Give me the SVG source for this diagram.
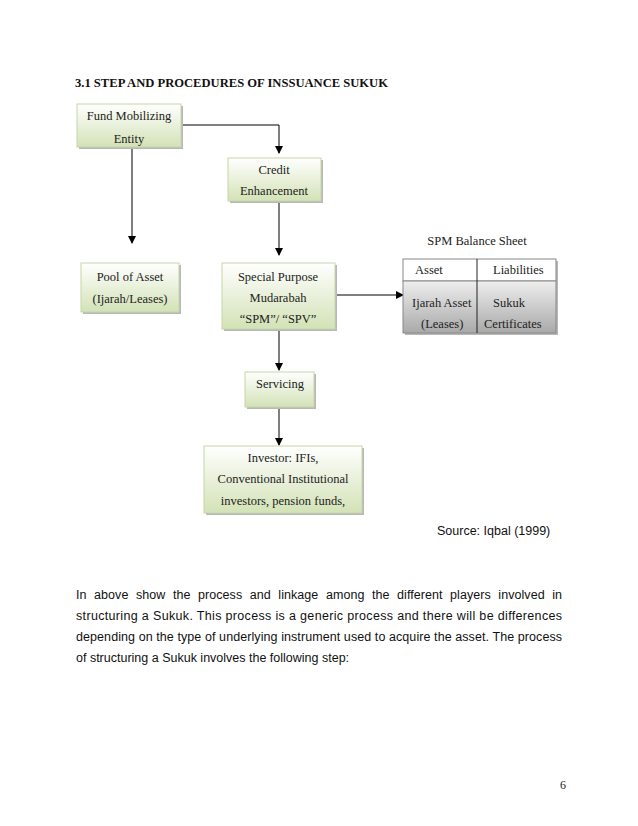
<svg xmlns="http://www.w3.org/2000/svg" width="638" height="826" viewBox="0 0 638 826">
<defs>
<linearGradient id="g" x1="0" y1="0" x2="0" y2="1">
<stop offset="0" stop-color="#ffffff"/>
<stop offset="1" stop-color="#d3e2b6"/>
</linearGradient>
<linearGradient id="gray" x1="0" y1="0" x2="0" y2="1">
<stop offset="0" stop-color="#eeeeee"/>
<stop offset="1" stop-color="#a9a9a9"/>
</linearGradient>
<marker id="ah" markerWidth="8" markerHeight="8" refX="7" refY="4" orient="auto" markerUnits="userSpaceOnUse">
<path d="M0,0 L8,4 L0,8 z" fill="#000"/>
</marker>
</defs>
<style>
.box{fill:url(#g);stroke:#c6d6a8;stroke-width:1}
.sh{fill:#b8b8b8}
.t{font-family:"Liberation Serif",serif;font-size:12.5px;fill:#222;text-anchor:middle}
.tl{font-family:"Liberation Serif",serif;font-size:12.5px;fill:#222}
.s{font-family:"Liberation Sans",sans-serif;font-size:12.5px;fill:#111}
.c{stroke:#000;stroke-width:1;fill:none;marker-end:url(#ah)}
</style>
<rect width="638" height="826" fill="#fff"/>
<text x="75" y="87" font-family="Liberation Serif,serif" font-weight="bold" font-size="11.5" fill="#111" textLength="313" lengthAdjust="spacingAndGlyphs">3.1 STEP AND PROCEDURES OF INSSUANCE SUKUK</text>

<g id="connectors">
<path class="c" d="M181,125 H279 V153"/>
<path class="c" d="M132,148 V243"/>
<path class="c" d="M279,202 V255"/>
<path class="c" d="M336,295 H403"/>
<path class="c" d="M279,330 V370"/>
<path class="c" d="M279,408 V445"/>
</g>

<g id="fund">
<rect class="sh" x="79" y="106" width="104" height="43"/>
<rect class="box" x="77" y="104" width="104" height="43"/>
<text class="t" x="129" y="120">Fund Mobilizing</text>
<text class="t" x="129" y="143">Entity</text>
</g>
<g id="credit">
<rect class="sh" x="230" y="160" width="93" height="43"/>
<rect class="box" x="228" y="158" width="93" height="43"/>
<text class="t" x="274" y="174">Credit</text>
<text class="t" x="274" y="195">Enhancement</text>
</g>
<g id="pool">
<rect class="sh" x="83" y="265" width="98" height="49"/>
<rect class="box" x="81" y="263" width="98" height="49"/>
<text class="t" x="130" y="281">Pool of Asset</text>
<text class="t" x="130" y="303">(Ijarah/Leases)</text>
</g>
<g id="spm">
<rect class="sh" x="224" y="265" width="113" height="66"/>
<rect class="box" x="222" y="263" width="113" height="66"/>
<text class="t" x="278" y="281">Special Purpose</text>
<text class="t" x="278" y="302">Mudarabah</text>
<text class="t" x="278" y="323">“SPM”/ “SPV”</text>
</g>
<g id="balance">
<text class="t" x="477" y="245">SPM Balance Sheet</text>
<rect class="sh" x="405" y="261" width="153" height="74"/>
<rect x="403" y="259" width="153" height="22" fill="#fff" stroke="#888"/>
<rect x="403" y="281" width="153" height="52" fill="url(#gray)" stroke="#888"/>
<line x1="477" y1="259" x2="477" y2="333" stroke="#222"/>
<text class="tl" x="415" y="274">Asset</text>
<text class="tl" x="493" y="274">Liabilities</text>
<text class="tl" x="412" y="307">Ijarah Asset</text>
<text class="tl" x="421" y="328">(Leases)</text>
<text class="tl" x="493" y="307">Sukuk</text>
<text class="tl" x="484" y="328">Certificates</text>
</g>
<g id="servicing">
<rect class="sh" x="247" y="374" width="69" height="35"/>
<rect class="box" x="245" y="372" width="69" height="35"/>
<text class="t" x="280" y="388">Servicing</text>
</g>
<g id="investor">
<rect class="sh" x="206" y="448" width="158" height="67"/>
<rect class="box" x="204" y="446" width="158" height="67"/>
<text class="t" x="283" y="462">Investor: IFIs,</text>
<text class="t" x="283" y="483">Conventional Institutional</text>
<text class="t" x="283" y="505">investors, pension funds,</text>
</g>

<text class="s" x="437" y="535">Source: Iqbal (1999)</text>
<text class="s" x="76" y="599" word-spacing="4" textLength="486" lengthAdjust="spacing">In above show the process and linkage among the different players involved in</text>
<text class="s" x="76" y="620" textLength="486" lengthAdjust="spacing">structuring a Sukuk. This process is a generic process and there will be differences</text>
<text class="s" x="76" y="641" textLength="486" lengthAdjust="spacing">depending on the type of underlying instrument used to acquire the asset. The process</text>
<text class="s" x="76" y="662">of structuring a Sukuk involves the following step:</text>
<text x="560" y="789" font-family="Liberation Serif,serif" font-size="12" fill="#222">6</text>
</svg>
